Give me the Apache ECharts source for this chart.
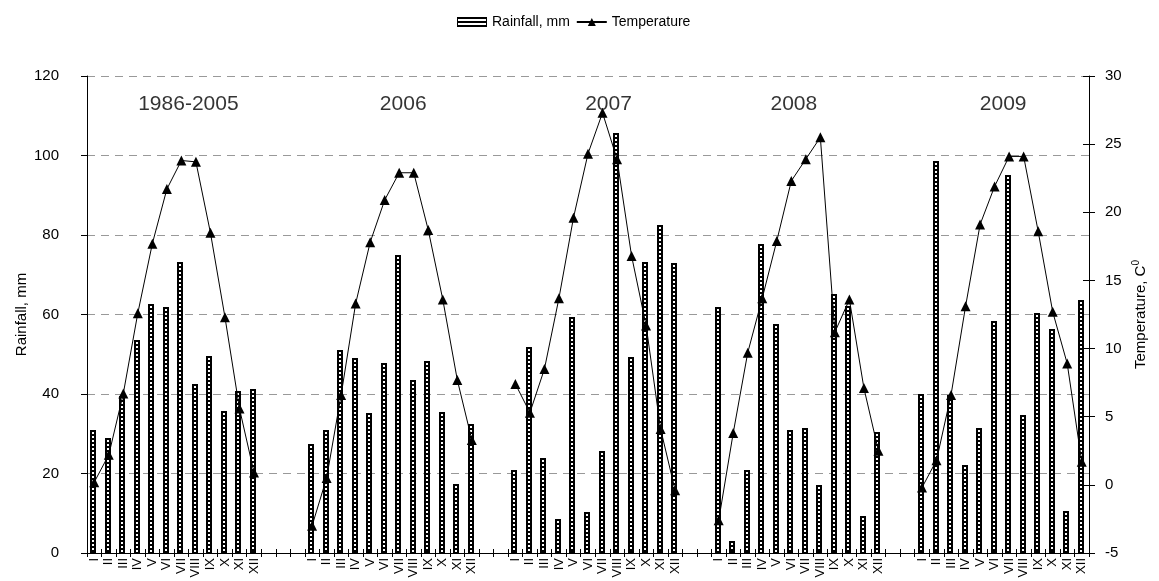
<!DOCTYPE html>
<html><head><meta charset="utf-8">
<script src="https://cdn.jsdelivr.net/npm/echarts@6/dist/echarts.min.js"></script>
<style>html,body{margin:0;padding:0;background:#fff}#c{width:1159px;height:581px}</style>
</head><body><div id="c"></div>
<script>
// ---- data ----
const months = ['I','II','III','IV','V','VI','VII','VIII','IX','X','XI','XII'];
const groups = ['1986-2005','2006','2007','2008','2009'];
const emptySlotsBefore = [0, 3, 2, 2, 2];
const rain1986 = [31.0, 29.0, 39.5, 53.5, 62.6, 62.0, 73.3, 42.6, 49.5, 35.8, 40.8, 41.2];
const temp1986 = [0.2, 2.2, 6.7, 12.6, 17.7, 21.7, 23.8, 23.7, 18.5, 12.3, 5.6, 0.9];
const rain2006 = [27.3, 31.0, 51.1, 49.1, 35.2, 47.7, 75.0, 43.6, 48.4, 35.5, 17.4, 32.4];
const temp2006 = [-3.0, 0.5, 6.6, 13.3, 17.8, 20.9, 22.9, 22.9, 18.7, 13.6, 7.7, 3.3];
const rain2007 = [20.8, 51.8, 23.9, 8.6, 59.4, 10.3, 25.6, 105.7, 49.2, 73.2, 82.4, 72.9];
const temp2007 = [7.4, 5.3, 8.5, 13.7, 19.6, 24.3, 27.3, 23.9, 16.8, 11.7, 4.1, -0.4];
const rain2008 = [62.0, 3.1, 20.8, 77.7, 57.5, 31.0, 31.4, 17.1, 65.1, 62.1, 9.3, 30.4];
const temp2008 = [-2.6, 3.8, 9.7, 13.7, 17.9, 22.3, 23.9, 25.5, 11.2, 13.6, 7.1, 2.5];
const rain2009 = [40.0, 98.5, 39.8, 22.2, 31.4, 58.4, 95.1, 34.8, 60.3, 56.3, 10.5, 63.6];
const temp2009 = [-0.2, 1.8, 6.6, 13.1, 19.1, 21.9, 24.1, 24.1, 18.6, 12.7, 8.9, 1.7];
const rainTicks = {min: 0, max: 120, interval: 20};
const tempTicks = {min: -5, max: 30, interval: 5};
const groupLabelY = 113;

// ---- build axis slots ----
const rainByGroup = [rain1986, rain2006, rain2007, rain2008, rain2009];
const tempByGroup = [temp1986, temp2006, temp2007, temp2008, temp2009];
const cats = [], barData = [], lineData = [], groupStarts = [];
groups.forEach((g, gi) => {
  for (let k = 0; k < emptySlotsBefore[gi]; k++) { cats.push(''); lineData.push(null); }
  groupStarts.push(cats.length);
  months.forEach((m, mi) => {
    barData.push([cats.length, rainByGroup[gi][mi]]);
    lineData.push(tempByGroup[gi][mi]);
    cats.push(m);
  });
});
// style tweak: horizontal shift (px) of each group caption
const labelShift = [7, 4, 6, -12, -6];
const labelData = groups.map((g, i) => ({
  value: [groupStarts[i] + 6, groupLabelY], name: g,
  label: {offset: [labelShift[i], 0]}
}));

// legend icon for rainfall
const cv = document.createElement('canvas'); cv.width = 30; cv.height = 10;
const cx = cv.getContext('2d');
cx.fillStyle = '#000'; cx.fillRect(0, 0, 30, 10);
cx.fillStyle = '#fff'; cx.fillRect(1, 2, 28, 2); cx.fillRect(1, 6, 28, 2);
const rainIcon = 'image://' + cv.toDataURL();

function renderBar(params, api) {
  const idx = api.value(0), v = api.value(1);
  const top = api.coord([idx, v]);
  const base = api.coord([idx, 0]);
  const w = 6;
  const x0 = Math.round(top[0] - 4);
  const yt = Math.round(top[1]), yb = Math.round(base[1]);
  const children = [{type: 'rect', shape: {x: x0, y: yt, width: w, height: yb - yt}, style: {fill: '#000'}}];
  for (let y = yt + 2; y + 2 <= yb - 1; y += 4) {
    children.push({type: 'rect', shape: {x: x0 + 2, y: y, width: 2, height: 2}, style: {fill: '#fff'}});
  }
  return {type: 'group', children};
}

const FONT = 'Liberation Sans, Arial, sans-serif';
const chart = echarts.init(document.getElementById('c'), null, {renderer: 'canvas'});
chart.setOption({
  animation: false,
  backgroundColor: '#fff',
  textStyle: {fontFamily: FONT, color: '#000'},
  legend: {
    top: 10, left: 452, itemWidth: 30, itemHeight: 10, itemGap: 6,
    textStyle: {fontSize: 14, color: '#000', fontFamily: FONT},
    data: [{name: 'Rainfall, mm', icon: rainIcon}, {name: 'Temperature'}]
  },
  grid: {left: 87, right: 67, top: 76, bottom: 28, containLabel: false},
  xAxis: [
    {type: 'category', data: cats, position: 'bottom', boundaryGap: true,
     axisLine: {onZero: false, lineStyle: {color: '#000', width: 1}},
     axisTick: {show: true, interval: 0, length: 4, lineStyle: {color: '#000'}},
     axisLabel: {interval: 0, rotate: 90, fontSize: 13, color: '#000', margin: 5, fontFamily: FONT},
     splitLine: {show: false}},
    {type: 'category', data: cats, position: 'bottom', boundaryGap: true,
     axisLine: {show: false, onZero: false},
     axisTick: {show: true, inside: true, interval: 0, length: 4, lineStyle: {color: '#000'}},
     axisLabel: {show: false}, splitLine: {show: false}}
  ],
  yAxis: [
    {type: 'value', position: 'left', min: rainTicks.min, max: rainTicks.max, interval: rainTicks.interval,
     name: 'Rainfall, mm', nameLocation: 'middle', nameGap: 58, nameMoveOverlap: false,
     nameTextStyle: {fontSize: 15, color: '#000', fontFamily: FONT},
     axisLine: {show: true, onZero: false, lineStyle: {color: '#000'}},
     axisTick: {show: true, length: 6, lineStyle: {color: '#000'}},
     axisLabel: {fontSize: 15, color: '#000', margin: 28, fontFamily: FONT},
     splitLine: {show: true, lineStyle: {color: '#999', type: [8, 6], width: 1}}},
    {type: 'value', position: 'right', min: tempTicks.min, max: tempTicks.max, interval: tempTicks.interval,
     name: 'Temperature, C{s|0}', nameLocation: 'middle', nameGap: 42, nameRotate: 90, nameMoveOverlap: false,
     nameTextStyle: {fontSize: 15, color: '#000', fontFamily: FONT, lineHeight: 20,
       rich: {s: {fontSize: 10, verticalAlign: 'top', lineHeight: 20, fontFamily: FONT, color: '#000'}}},
     axisLine: {show: true, onZero: false, lineStyle: {color: '#000'}},
     axisTick: {show: true, length: 6, lineStyle: {color: '#000'}},
     axisLabel: {fontSize: 15, color: '#000', margin: 16, fontFamily: FONT},
     splitLine: {show: false}},
    {type: 'value', position: 'right', min: tempTicks.min, max: tempTicks.max, interval: tempTicks.interval,
     axisLine: {show: false, onZero: false},
     axisTick: {show: true, inside: true, length: 6, lineStyle: {color: '#000'}},
     axisLabel: {show: false}, splitLine: {show: false}}
  ],
  series: [
    {name: 'Rainfall, mm', type: 'custom', xAxisIndex: 0, yAxisIndex: 0, data: barData,
     encode: {x: 0, y: 1}, renderItem: renderBar, itemStyle: {color: '#000'}, silent: true, z: 2},
    {name: 'Temperature', type: 'line', xAxisIndex: 0, yAxisIndex: 1, data: lineData,
     connectNulls: false, symbol: 'triangle', symbolSize: 10,
     itemStyle: {color: '#000'}, lineStyle: {color: '#000', width: 1}, z: 3, silent: true},
    {name: 'groupLabels', type: 'scatter', xAxisIndex: 0, yAxisIndex: 0, data: labelData,
     symbolSize: 0, silent: true, z: 4,
     label: {show: true, position: 'inside', formatter: p => p.name, fontSize: 21, color: '#000', fontFamily: FONT}}
  ]
});
</script></body></html>
